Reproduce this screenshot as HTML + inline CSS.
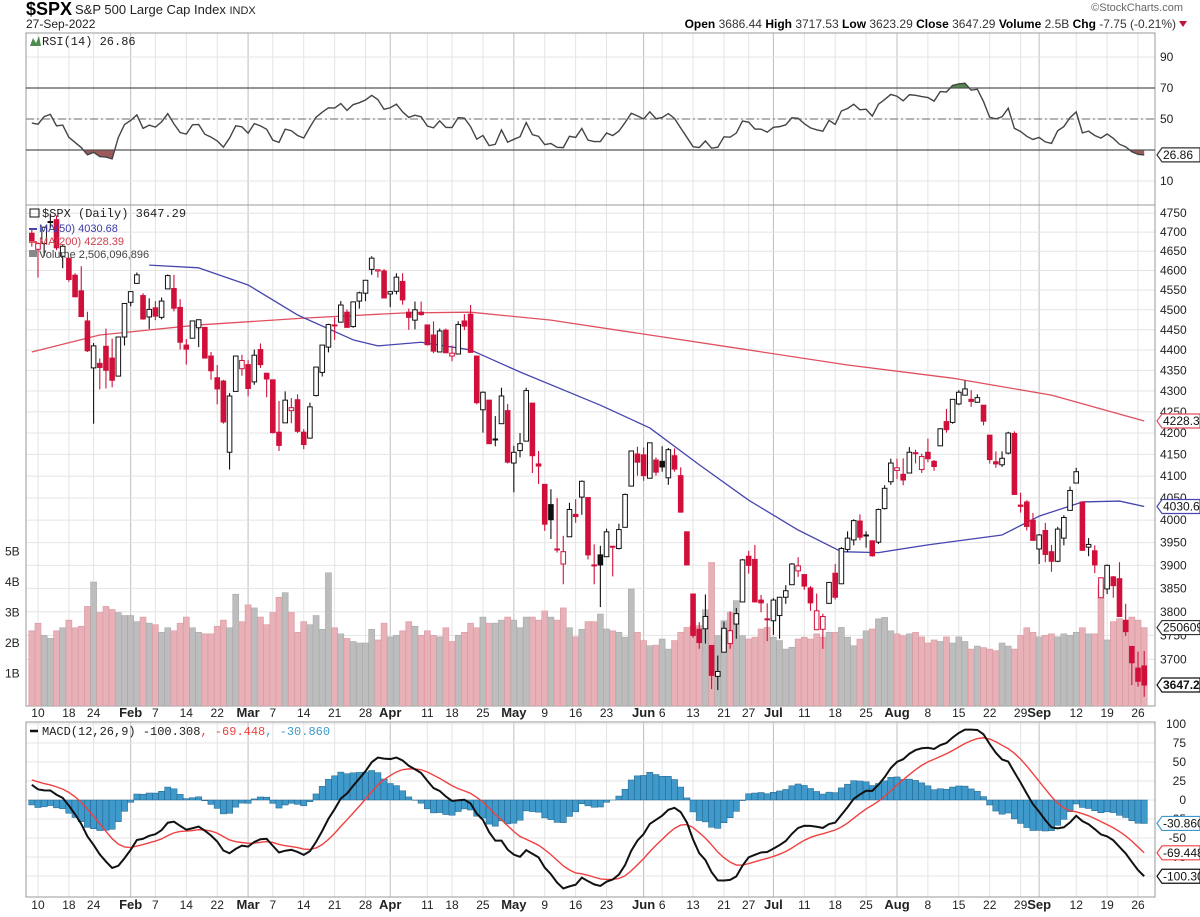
<!DOCTYPE html>
<html><head><meta charset="utf-8"><style>
html,body{margin:0;padding:0;background:#fff;}
svg{display:block;font-family:"Liberation Sans",sans-serif;}
</style></head><body>
<svg id="chart" width="1200" height="917" viewBox="0 0 1200 917" xmlns="http://www.w3.org/2000/svg">
<g>
<text x="26" y="15" font-size="18" font-weight="bold">$SPX</text>
<text x="75" y="14" font-size="13" fill="#222">S&amp;P 500 Large Cap Index <tspan font-size="11">INDX</tspan></text>
<text x="26" y="28" font-size="12" fill="#222">27-Sep-2022</text>
<text x="1183" y="11" font-size="11" fill="#666" text-anchor="end">©StockCharts.com</text>
<text x="1176" y="28" font-size="12" fill="#333" text-anchor="end"><tspan font-weight="bold" fill="#000">Open</tspan> 3686.44 <tspan font-weight="bold" fill="#000">High</tspan> 3717.53 <tspan font-weight="bold" fill="#000">Low</tspan> 3623.29 <tspan font-weight="bold" fill="#000">Close</tspan> 3647.29 <tspan font-weight="bold" fill="#000">Volume</tspan> 2.5B <tspan font-weight="bold" fill="#000">Chg</tspan> -7.75 (-0.21%)</text>
<path d="M1179 21 L1187 21 L1183 27 Z" fill="#c0143c"/>
</g>
<g id="grid"></g>
<g id="content"></g>
<g id="labels"></g>
</svg>
<script>
// ---- data ----
const history = [4614,4631,4660,4680,4697,4702,4685,4647,4650,4683,4683,4701,4689,4705,4698,4682,4691,4702,4595,4655,4567,
4513,4577,4538,4592,4687,4701,4668,4712,4669,4635,4710,4669,4621,4568,4650,4697,4726,4791,4786,4794,4778,4766,4797,4794,4701,4696];
const closes = [4677,4670,4713,4726,4659,4663,4577,4533,4483,4398,4410,4357,4350,4326,4432,4516,4546,4589,4477,4501,
4484,4522,4587,4504,4419,4402,4472,4475,4380,4349,4305,4226,4288,4385,4374,4306,4387,4364,4329,4201,
4171,4278,4260,4204,4173,4262,4358,4412,4463,4461,4512,4456,4520,4543,4575,4632,4602,4530,4546,4583,
4525,4481,4500,4488,4413,4397,4447,4393,4392,4463,4459,4394,4272,4297,4175,4184,4288,4132,4155,4175,
4301,4147,4123,3991,4001,3935,3930,4024,4008,4088,3923,3901,3901,3974,3941,3979,4058,4158,4132,4101,
4177,4109,4121,4161,4116,4018,3901,3750,3735,3790,3667,3675,3765,3760,3796,3912,3900,3821,3819,3785,
3825,3831,3845,3903,3899,3855,3819,3802,3790,3863,3831,3937,3960,3999,3962,3967,3921,4024,4072,4130,
4119,4091,4155,4152,4145,4140,4122,4210,4208,4280,4297,4305,4275,4284,4228,4138,4128,4141,4200,4058,
4031,3986,3955,3967,3924,3909,3980,4006,4067,4110,3933,3946,3901,3873,3900,3856,3790,3758,3693,3655,3647.29];
const opens = [4697,4655,4670,4728,4733,4637,4632,4588,4548,4472,4356,4367,4409,4380,4336,4432,4519,4567,4536,4482,
4505,4481,4553,4554,4506,4412,4429,4455,4456,4385,4332,4324,4155,4299,4354,4364,4322,4401,4343,4327,
4202,4224,4253,4279,4202,4188,4289,4345,4407,4462,4469,4494,4458,4522,4542,4603,4599,4599,4540,4547,
4572,4494,4474,4494,4462,4437,4395,4449,4385,4390,4472,4489,4385,4255,4278,4186,4222,4253,4130,4159,
4181,4271,4128,4081,4035,3936,3903,3963,4013,4052,4051,3899,3923,3919,3942,3937,3984,4077,4151,4149,
4095,4137,4134,4096,4147,4101,3974,3838,3763,3764,3729,3665,3715,3733,3774,3821,3920,3913,3825,3785,
3781,3792,3831,3858,3888,3880,3851,3762,3763,3818,3883,3860,3935,3956,3998,3965,3954,3951,4026,4087,
4113,4104,4107,4154,4115,4155,4134,4170,4227,4225,4269,4290,4280,4273,4266,4195,4133,4126,4153,4199,
4034,4041,4000,3936,3977,3930,3909,3960,4022,4084,4041,3940,3932,3830,3849,3875,3871,3782,3727,3682,3686.44];
const highs = [4708,4673,4714,4749,4744,4666,4632,4593,4611,4495,4417,4379,4453,4428,4433,4516,4547,4595,4542,4529,
4522,4531,4590,4589,4527,4427,4473,4476,4456,4395,4363,4327,4295,4385,4388,4375,4401,4416,4343,4327,
4276,4299,4283,4292,4209,4272,4358,4412,4465,4481,4522,4501,4520,4546,4576,4637,4603,4604,4548,4593,
4593,4503,4521,4521,4462,4471,4453,4453,4411,4471,4489,4512,4385,4299,4279,4240,4308,4269,4170,4200,
4308,4271,4158,4082,4070,4050,3965,4039,4047,4090,4051,3946,3943,3981,3942,3992,4060,4159,4168,4166,
4177,4143,4169,4165,4164,4120,3974,3838,3778,3837,3729,3708,3779,3801,3808,3914,3932,3945,3836,3818,
3829,3832,3857,3905,3918,3880,3855,3839,3796,3864,3903,3940,3975,4002,4013,3975,3954,4026,4079,4140,
4140,4141,4167,4161,4152,4187,4137,4211,4257,4280,4302,4325,4302,4292,4266,4195,4157,4157,4203,4204,
4062,4045,4016,3969,3994,3945,3985,4011,4076,4119,4041,3960,3944,3870,3902,3877,3907,3817,3727,3716,3717.53];
const lows = [4662,4582,4637,4710,4653,4606,4571,4531,4482,4395,4222,4304,4306,4309,4336,4411,4509,4567,4475,4452,
4474,4476,4553,4496,4401,4364,4429,4407,4379,4327,4268,4222,4115,4299,4337,4287,4315,4356,4285,4199,
4158,4224,4223,4200,4162,4187,4287,4335,4394,4425,4469,4455,4455,4503,4522,4589,4582,4530,4507,4539,
4513,4450,4451,4485,4411,4392,4395,4392,4372,4390,4449,4394,4268,4201,4175,4169,4222,4129,4063,4143,
4181,4107,4082,3976,3958,3928,3859,3963,3994,4012,3913,3859,3810,3919,3876,3935,3984,4077,4101,4089,
4095,4101,4110,4080,4110,4017,3900,3745,3722,3733,3639,3637,3715,3722,3743,3821,3882,3820,3799,3738,
3751,3743,3817,3858,3875,3847,3802,3762,3722,3817,3826,3860,3929,3944,3955,3939,3919,3947,4024,4080,
4093,4079,4107,4129,4107,4132,4112,4170,4201,4222,4266,4290,4262,4272,4218,4129,4119,4121,4150,4057,
4017,3977,3954,3903,3907,3886,3907,3944,4022,4084,3932,3920,3883,3837,3838,3830,3789,3749,3647,3644,3623.29];
const volumes = [2.4,2.65,2.25,2.15,2.4,2.5,2.75,2.5,2.55,3.2,4.0,3.0,3.2,3.1,3.0,2.9,2.9,2.7,2.85,2.65,
2.6,2.35,2.5,2.4,2.65,2.85,2.5,2.35,2.3,2.3,2.55,2.75,2.5,3.6,2.7,3.25,3.15,2.85,2.6,3.0,
3.5,3.65,3.0,2.35,2.7,2.6,2.9,2.45,4.3,2.5,2.3,2.15,2.05,2.0,2.0,2.45,2.1,2.65,2.2,2.25,
2.4,2.7,2.55,2.25,2.4,2.25,2.2,2.5,2.05,2.25,2.35,2.65,2.5,2.85,2.65,2.65,2.75,2.85,2.75,2.5,
2.85,2.85,2.75,3.05,2.85,2.75,3.15,2.5,2.2,2.45,2.7,2.7,
2.95,2.46,2.4,2.35,2.19,3.77,2.35,2.08,1.91,1.93,2.13,1.8,2.08,2.35,2.51,2.57,2.57,3.09,4.64,2.24,
2.73,3.0,3.39,2.24,2.13,2.19,2.46,2.51,2.19,2.08,1.8,1.86,2.13,2.19,2.13,2.3,2.19,2.35,2.35,2.51,
2.19,1.91,2.13,2.4,2.46,2.79,2.84,2.4,2.3,2.24,
2.3,2.35,2.2,2.0,2.1,2.05,2.2,2.0,2.2,2.05,1.8,1.9,1.85,1.8,1.75,2.0,1.9,1.8,2.25,2.5,2.35,
2.2,2.25,2.3,2.2,2.3,2.25,2.35,2.5,2.3,2.3,3.9,2.1,2.7,2.8,2.7,2.85,2.75,2.506];
const ma50Days = [19,27,35,43,52,56,63,71,79,92,100,108,116,124,131,137,145,157,163,170,176,180];
const ma50Vals = [4614,4607,4563,4487,4425,4410,4419,4400,4346,4266,4212,4126,4045,3978,3930,3928,3945,3967,4009,4041,4043,4030.68];
const ma200Days = [0,11,27,44,60,71,84,100,116,132,149,165,180];
const ma200Vals = [4395,4437,4462,4479,4492,4494,4474,4437,4400,4363,4331,4290,4228.39];
const tickIdx = [1,6,10,16,20,25,30,35,39,44,49,54,58,64,68,73,78,83,88,93,99,102,107,112,116,120,125,130,135,140,145,150,155,160,163,169,174,179];
const tickLabels = ["10","18","24","Feb","7","14","22","Mar","7","14","21","28","Apr","11","18","25","May","9","16","23","Jun","6","13","21","27","Jul","11","18","25","Aug","8","15","22","29","Sep","12","19","26"];
const priceTicks = [3700,3750,3800,3850,3900,3950,4000,4050,4100,4150,4200,4250,4300,4350,4400,4450,4500,4550,4600,4650,4700,4750];
const volTicks = [1,2,3,4,5];
const rsiTicks = [10,30,50,70,90];
const macdTicks = [-100,-75,-50,-25,0,25,50,75,100];

// ---- axes ----
const L=26, R=1155;
const xOf = i => 31.8 + i*6.18;
const yP = p => 391 - 1786*Math.log(p/4300);
const yV = v => 704 - v*30.5;
const yR = r => 119 - (r-50)*1.55;
const yM = m => 800 - m*0.76;
const NS="http://www.w3.org/2000/svg";
function mk(tag, attrs, parent){const e=document.createElementNS(NS,tag);for(const k in attrs)e.setAttribute(k,attrs[k]);parent.appendChild(e);return e;}
const svg=document.getElementById('chart');
const grid=document.getElementById('grid'), content=document.getElementById('content'), labels=document.getElementById('labels');
const panels=[[33,205],[205,706],[722,897]];

const defs=mk('defs',{},svg);
panels.forEach((p,k)=>{const c=mk('clipPath',{id:'clip'+k},defs);mk('rect',{x:L,y:p[0],width:R-L,height:p[1]-p[0]},c);});

panels.forEach((p,k)=>{
  tickIdx.forEach((ti,j)=>{
    const month=isNaN(+tickLabels[j]);
    const g=mk('line',{x1:xOf(ti),x2:xOf(ti),y1:p[0],y2:p[1],stroke:month?'#bdbdbd':'#e4e4e4','stroke-width':1},grid);
    
    
  });
});
function hgrid(y){const g=mk('line',{x1:L,x2:R,y1:y,y2:y,stroke:'#e4e4e4','stroke-width':1},grid);
  
  }
rsiTicks.forEach(t=>hgrid(yR(t)));
priceTicks.forEach(t=>hgrid(yP(t)));
macdTicks.forEach(t=>hgrid(yM(t)));
panels.forEach((p,k)=>{const b=mk('rect',{x:L,y:p[0],width:R-L,height:p[1]-p[0],fill:'none',stroke:'#999','stroke-width':1},grid);
  
  });

// ---- RSI ----
const all=history.concat(closes); const off=history.length;
let ag=0,al=0;
for(let i=1;i<=14;i++){const d=all[i]-all[i-1];if(d>0)ag+=d;else al-=d;}
ag/=14;al/=14;
const rsi=[];
for(let i=15;i<all.length;i++){const d=all[i]-all[i-1];ag=(ag*13+Math.max(d,0))/14;al=(al*13+Math.max(-d,0))/14;if(i>=off)rsi.push(100-100/(1+ag/al));}
const rsiG=mk('g',{'clip-path':'url(#clip0)'},content);


const rsiPts=rsi.map((v,i)=>xOf(i)+','+yR(v)).join(' ');
const cl1=mk('clipPath',{id:'below30'},defs);mk('rect',{x:L,y:yR(30),width:R-L,height:100},cl1);
const cl2=mk('clipPath',{id:'above70'},defs);mk('rect',{x:L,y:0,width:R-L,height:yR(70)},cl2);
const fb=mk('polygon',{points:rsiPts+' '+xOf(rsi.length-1)+','+yR(30)+' '+xOf(0)+','+yR(30),fill:'#9c5a5a','clip-path':'url(#below30)'},rsiG);


const fa=mk('polygon',{points:rsiPts+' '+xOf(rsi.length-1)+','+yR(70)+' '+xOf(0)+','+yR(70),fill:'#4f8a4f','clip-path':'url(#above70)'},rsiG);


[[70,'none'],[30,'none'],[50,'8,3,2,3']].forEach(([v,d])=>{const l=mk('line',{x1:L,x2:R,y1:yR(v),y2:yR(v),stroke:v==50?'#888':'#555','stroke-width':1.2,'stroke-dasharray':d},rsiG);
  
  });
const rl=mk('polyline',{points:rsiPts,fill:'none',stroke:'#444','stroke-width':1.4},rsiG);



// ---- main: volume ----
const mainG=mk('g',{'clip-path':'url(#clip1)'},content);


volumes.forEach((v,i)=>{
  const prev=i>0?closes[i-1]:history[history.length-1];
  const down=closes[i]<prev;
  const b=mk('rect',{x:xOf(i)-3,y:yV(v),width:6,height:704-yV(v)+2,fill:down?'#e8b0b7':'#bdbdbd',stroke:down?'#d99aa2':'#a9a9a9','stroke-width':0.6},mainG);
  
  
});
function maLine(days,vals,col,name){
  const l=mk('polyline',{points:days.map((d,i)=>xOf(d)+','+yP(vals[i])).join(' '),fill:'none',stroke:col,'stroke-width':1.3,'stroke-linejoin':'round'},mainG);
  
  
}
maLine(ma200Days,ma200Vals,'#e05060','ma200-line');
maLine(ma50Days,ma50Vals,'#4646b0','ma50-line');
closes.forEach((c,i)=>{
  const o=opens[i],h=highs[i],lo=lows[i];
  const prev=i>0?closes[i-1]:history[history.length-1];
  const col=c<prev?'#d0103a':'#111';
  const w=mk('line',{x1:xOf(i),x2:xOf(i),y1:yP(h),y2:yP(lo),stroke:col,'stroke-width':1.1},mainG);
  
  
  const top=yP(Math.max(o,c)),bot=yP(Math.min(o,c));
  const b=mk('rect',{x:xOf(i)-2.3,y:top,width:4.6,height:Math.max(bot-top,1),fill:c<o?col:'#fff',stroke:col,'stroke-width':1},mainG);
  
  
});

// ---- MACD ----
function ema(arr,n){const k=2/(n+1);const out=[];let e=arr[0];arr.forEach((v,i)=>{e=i?v*k+e*(1-k):v;out.push(e);});return out;}
const e12=ema(all,12),e26=ema(all,26);
const macdAll=e12.map((v,i)=>v-e26[i]);
const sigAll=ema(macdAll,9);
const macd=macdAll.slice(off), sig=sigAll.slice(off);
const mG=mk('g',{'clip-path':'url(#clip2)'},content);


macd.forEach((m,i)=>{
  const hv=m-sig[i];const y0=yM(0),y1=yM(hv);
  const b=mk('rect',{x:xOf(i)-3.1,y:Math.min(y0,y1),width:6.2,height:Math.abs(y1-y0),fill:'#3f9acb',stroke:'#1f5f86','stroke-width':0.5},mG);
  
  
});
const sl=mk('polyline',{points:sig.map((v,i)=>xOf(i)+','+yM(v)).join(' '),fill:'none',stroke:'#f04040','stroke-width':1.4},mG);


const ml=mk('polyline',{points:macd.map((v,i)=>xOf(i)+','+yM(v)).join(' '),fill:'none',stroke:'#111','stroke-width':2},mG);



// ---- labels ----
function txt(x,y,s,attrs,name){const t=mk('text',Object.assign({x:x,y:y,'font-size':12,fill:'#222'},attrs||{}),labels);t.textContent=s;
  
  return t;}
rsiTicks.forEach(t=>{if(t!==30)txt(1160,yR(t)+4,String(t),{},'rsi-tick-label');});
priceTicks.forEach(t=>txt(1160,yP(t)+4,String(t),{},'price-tick-label'));
volTicks.forEach(t=>txt(5,yV(t)+4,t+'B',{},'volume-tick-label'));
macdTicks.forEach(t=>txt(1186,yM(t)+4,String(t),{'text-anchor':'end'},'macd-tick-label'));
[717,909].forEach(yy=>tickIdx.forEach((ti,j)=>{const month=isNaN(+tickLabels[j]);
  txt(xOf(ti),yy,tickLabels[j],{'text-anchor':'middle','font-weight':month?'bold':'normal','font-size':month?13:12},'x-tick-label');}));
function box(y,s,col,bold,name){
  const g=mk('g',{},labels);
  
  
  mk('path',{d:`M1157 ${y} L1162 ${y-7} L1200 ${y-7} L1200 ${y+7} L1162 ${y+7} Z`,fill:'#fff',stroke:col,'stroke-width':1.2},g);
  const t=mk('text',{x:1163,y:y+4,'font-size':12,fill:'#111','font-weight':bold?'bold':'normal'},g);t.textContent=s;
}
const lastI=closes.length-1;
box(yR(rsi[lastI]),'26.86','#333',false,'rsi-value-box');
box(yP(ma200Vals[ma200Vals.length-1]),'4228.39','#e05060',false,'ma200-value-box');
box(yP(ma50Vals[ma50Vals.length-1]),'4030.68','#4646b0',false,'ma50-value-box');
box(yV(volumes[lastI]),'2506096896','#333',false,'volume-value-box');
box(yP(closes[lastI]),'3647.29','#111',true,'close-value-box');
box(yM(macd[lastI]-sig[lastI]),'-30.860','#3f9acb',false,'histogram-value-box');
box(yM(sig[lastI]),'-69.448','#f04040',false,'signal-value-box');
box(yM(macd[lastI]),'-100.308','#111',false,'macd-value-box');

const mono={'font-family':'Liberation Mono, monospace','font-size':12};
txt(42,45,'RSI(14) 26.86',mono,'rsi-legend');
mk('path',{d:'M30 46 L33 38 L36 43 L39 36 L41 46 Z',fill:'#4f8a4f'},labels);
txt(42,217,'$SPX (Daily) 3647.29',mono,'price-legend');
mk('rect',{x:30,y:209,width:9,height:8,fill:'none',stroke:'#111'},labels);
mk('line',{x1:29,x2:37,y1:229,y2:229,stroke:'#4646b0','stroke-width':2},labels);
txt(39,232,'MA(50) 4030.68',{'font-size':11,fill:'#3a3aa8'},'ma50-legend');
mk('line',{x1:29,x2:37,y1:242,y2:242,stroke:'#e05060','stroke-width':2},labels);
txt(39,245,'MA(200) 4228.39',{'font-size':11,fill:'#d04050'},'ma200-legend');
mk('rect',{x:29,y:250,width:8,height:7,fill:'#888'},labels);
txt(39,258,'Volume 2,506,096,896',{'font-size':11,fill:'#444'},'volume-legend');
mk('line',{x1:30,x2:38,y1:731,y2:731,stroke:'#111','stroke-width':2.5},labels);
const ml2=txt(42,735,'',mono,'macd-legend');
ml2.innerHTML='MACD(12,26,9) -100.308<tspan fill="#f04040">, -69.448</tspan><tspan fill="#3f9acb">, -30.860</tspan>';
</script>
</body></html>
